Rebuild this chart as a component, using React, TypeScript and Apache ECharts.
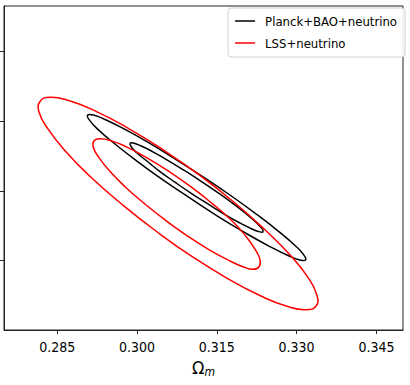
import React, { useEffect, useRef } from 'react';
import * as echarts from 'echarts';

const xTicks = [0.285, 0.3, 0.315, 0.33, 0.345];
const yTicks = [0.75, 0.8, 0.85, 0.9];
const seriesNames = ['Planck+BAO+neutrino', 'LSS+neutrino'];

// Planck+BAO+neutrino, outer (2 sigma) contour
const planckOuter: number[][] = [
  [0.3099, 0.7949], [0.3046, 0.8086], [0.2998, 0.8219], [0.2958, 0.8338], [0.2928, 0.8436],
  [0.2911, 0.8506], [0.2907, 0.8543], [0.2918, 0.8545], [0.2941, 0.8511], [0.2976, 0.8444],
  [0.3021, 0.8348], [0.3071, 0.8231], [0.3125, 0.8098], [0.3178, 0.7961], [0.3226, 0.7828],
  [0.3266, 0.7709], [0.3296, 0.7611], [0.3313, 0.7542], [0.3317, 0.7504], [0.3306, 0.7503],
  [0.3283, 0.7537], [0.3248, 0.7603], [0.3203, 0.7699], [0.3152, 0.7817],
];
// Planck+BAO+neutrino, inner (1 sigma) contour
const planckInner: number[][] = [
  [0.3104, 0.7977], [0.3072, 0.806], [0.3042, 0.8142], [0.3018, 0.8216], [0.2999, 0.8275],
  [0.2989, 0.8318], [0.2987, 0.8341], [0.2993, 0.8343], [0.3008, 0.8322], [0.3029, 0.8282],
  [0.3056, 0.8223], [0.3087, 0.8151], [0.312, 0.807], [0.3152, 0.7987], [0.3182, 0.7905],
  [0.3206, 0.7832], [0.3224, 0.7772], [0.3235, 0.7729], [0.3237, 0.7706], [0.3231, 0.7705],
  [0.3216, 0.7726], [0.3195, 0.7766], [0.3167, 0.7825], [0.3137, 0.7897],
];
// LSS+neutrino, outer contour
const lssOuter: number[][] = [
  [0.3038, 0.7704], [0.2972, 0.7902], [0.2913, 0.8099], [0.2866, 0.8283], [0.2833, 0.8443],
  [0.2816, 0.8565], [0.2818, 0.8644], [0.2837, 0.8672], [0.2873, 0.8647], [0.2922, 0.8573],
  [0.2982, 0.8453], [0.3048, 0.8297], [0.3117, 0.8114], [0.3183, 0.7916], [0.3241, 0.7718],
  [0.3289, 0.7534], [0.3322, 0.7375], [0.3338, 0.7252], [0.3337, 0.7174], [0.3317, 0.7146],
  [0.3282, 0.717], [0.3233, 0.7244], [0.3173, 0.7364], [0.3106, 0.7521],
];
// LSS+neutrino, inner contour
const lssInner: number[][] = [
  [0.3054, 0.7787], [0.3014, 0.7908], [0.2978, 0.8028], [0.2949, 0.814], [0.2929, 0.8237],
  [0.2918, 0.8311], [0.2919, 0.8358], [0.293, 0.8374], [0.2952, 0.8359], [0.2982, 0.8312],
  [0.3018, 0.8239], [0.3059, 0.8142], [0.3101, 0.803], [0.3141, 0.791], [0.3177, 0.779],
  [0.3204, 0.7677], [0.3222, 0.758], [0.3231, 0.7507], [0.323, 0.7458], [0.3219, 0.7436],
  [0.3199, 0.7455], [0.3171, 0.7504], [0.3135, 0.7578], [0.3095, 0.7675],
];

const FONT = "'DejaVu Sans Condensed', 'DejaVu Sans', sans-serif";
const AXIS_COLOR = '#222';

function contour(name: string, data: number[][], color: string) {
  return {
    type: 'custom',
    name,
    coordinateSystem: 'cartesian2d',
    data,
    encode: { x: 0, y: 1 },
    itemStyle: { color },
    renderItem: (params: any, api: any) => {
      if (params.dataIndex !== 0) return null;
      const points = data.map((p) => api.coord(p));
      return {
        type: 'polygon',
        silent: true,
        shape: { points, smooth: 0.5 },
        style: { fill: 'none', stroke: color, lineWidth: 1.5 },
      };
    },
  };
}

export default function App() {
  const ref = useRef<HTMLDivElement>(null);
  useEffect(() => {
    const chart = echarts.init(ref.current!, null, { renderer: 'svg' });
    chart.setOption({
      animation: false,
      backgroundColor: '#fff',
      grid: {
        left: 4, right: 7, top: 6, bottom: 55,
        show: true, borderColor: AXIS_COLOR, borderWidth: 1,
      },
      legend: {
        orient: 'vertical',
        right: 5,
        top: 8,
        data: seriesNames.map((name) => ({ name, icon: 'rect' })),
        itemWidth: 20,
        itemHeight: 1.5,
        itemGap: 6,
        padding: [5, 8, 6, 7],
        borderColor: '#d0d0d0',
        borderWidth: 1,
        borderRadius: 3,
        backgroundColor: 'rgba(255,255,255,0.9)',
        textStyle: { fontFamily: FONT, fontSize: 13, color: '#000', lineHeight: 16, padding: [0, 0, 0, 5] },
      },
      xAxis: {
        type: 'value',
        min: 0.275,
        max: 0.35,
        name: '{o|Ω}{m|m}',
        nameLocation: 'middle',
        nameGap: 27,
        nameTextStyle: {
          color: '#000',
          fontFamily: FONT,
          rich: {
            o: { fontSize: 18, fontFamily: FONT, color: '#000', lineHeight: 20 },
            m: { fontSize: 12, fontFamily: FONT, fontStyle: 'italic', color: '#000', lineHeight: 10, verticalAlign: 'bottom' },
          },
        },
        axisLine: { show: true, onZero: false, lineStyle: { color: AXIS_COLOR, width: 1 } },
        axisTick: { show: true, customValues: xTicks, length: 4, lineStyle: { color: AXIS_COLOR } },
        axisLabel: {
          customValues: xTicks,
          formatter: (v: number) => v.toFixed(3),
          fontFamily: FONT,
          fontSize: 14,
          color: '#000',
          margin: 10,
        },
        splitLine: { show: false },
      },
      yAxis: {
        type: 'value',
        min: 0.7,
        max: 0.9328,
        axisLine: { show: true, onZero: false, lineStyle: { color: AXIS_COLOR, width: 1 } },
        axisTick: { show: true, customValues: yTicks, length: 4, lineStyle: { color: AXIS_COLOR } },
        axisLabel: { show: false },
        splitLine: { show: false },
      },
      series: [
        contour(seriesNames[0], planckOuter, '#000'),
        contour(seriesNames[0], planckInner, '#000'),
        contour(seriesNames[1], lssOuter, '#ff0000'),
        contour(seriesNames[1], lssInner, '#ff0000'),
      ],
    });
    return () => chart.dispose();
  }, []);
  return (
    <div
      ref={ref}
      style={{ position: 'fixed', left: 0, top: 0, width: 410, height: 385, background: '#fff' }}
    />
  );
}
